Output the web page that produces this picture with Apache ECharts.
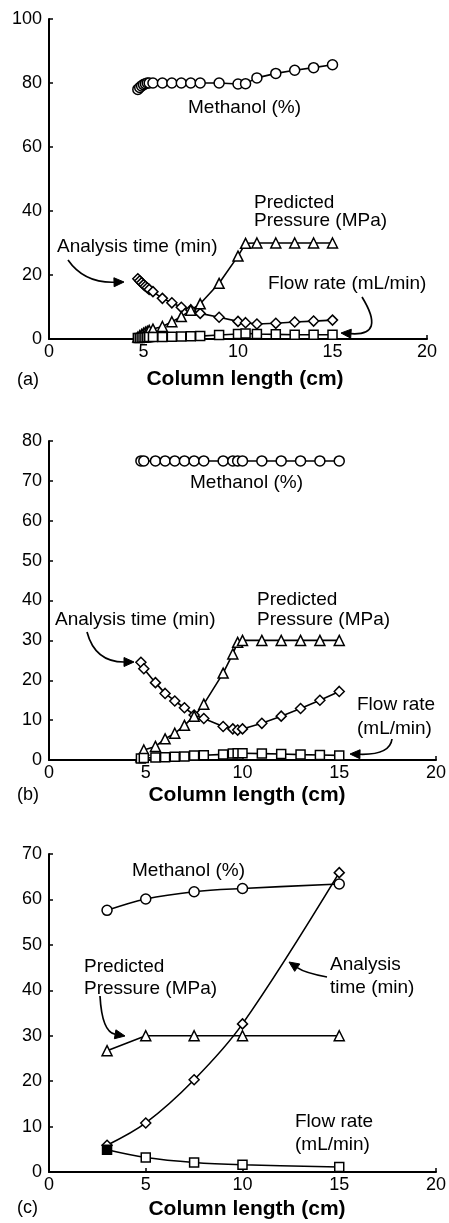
<!DOCTYPE html>
<html>
<head>
<meta charset="utf-8">
<script src="https://cdn.jsdelivr.net/npm/echarts@6/dist/echarts.min.js"></script>
<style>
html,body{margin:0;padding:0;background:#fff;}
#c{width:449px;height:1223px;}
</style>
</head>
<body>
<div id="c"></div>
<script>
// ---------- Panel (a) ----------
var xA     = [4.7, 4.8, 4.9, 5.0, 5.1, 5.2, 5.3, 5.5, 6, 6.5, 7, 7.5, 8, 9, 10, 10.4, 11, 12, 13, 14, 15];
var methA  = [78, 78.6, 79.1, 79.5, 79.8, 80, 80, 80, 80, 80, 80, 80, 80, 80, 79.7, 79.8, 81.6, 83, 84, 84.8, 85.7];
var timeA  = [18.8, 18.2, 17.6, 17.0, 16.5, 16.0, 15.5, 14.8, 12.7, 11.3, 9.9, 9.1, 8.0, 6.8, 5.5, 5.1, 4.7, 4.9, 5.3, 5.6, 5.9];
var pressA = [0.6, 1.0, 1.4, 1.8, 2.1, 2.4, 2.7, 3.1, 3.9, 5.4, 7.0, 9.0, 11.0, 17.4, 25.9, 29.9, 30, 30, 30, 30, 30];
var flowA  = [0.3, 0.35, 0.4, 0.45, 0.5, 0.55, 0.6, 0.6, 0.6, 0.7, 0.75, 0.85, 0.9, 1.25, 1.55, 1.75, 1.55, 1.45, 1.35, 1.35, 1.35];

// ---------- Panel (b) ----------
var xB     = [4.75, 4.9, 5.5, 6, 6.5, 7, 7.5, 8, 9, 9.5, 9.75, 10, 11, 12, 13, 14, 15];
var methB  = [75, 75, 75, 75, 75, 75, 75, 75, 75, 75, 75, 75, 75, 75, 75, 75, 75];
var timeB  = [24.5, 22.9, 19.4, 16.7, 14.8, 13.1, 11.3, 10.4, 8.4, 7.8, 7.5, 7.8, 9.2, 11.0, 12.9, 15.0, 17.2];
var pressB = [0.8, 2.5, 3.4, 5.3, 6.7, 8.7, 11.0, 14.0, 21.8, 26.6, 29.5, 30, 30, 30, 30, 30, 30];
var flowB  = [0.4, 0.5, 0.6, 0.7, 0.8, 0.9, 1.1, 1.2, 1.4, 1.6, 1.7, 1.7, 1.6, 1.5, 1.35, 1.25, 1.15];

// ---------- Panel (c) ----------
var xC     = [3, 5, 7.5, 10, 15];
var methC  = [57.6, 60.1, 61.7, 62.4, 63.4];
var timeC  = [5.9, 10.8, 20.3, 32.6, 65.9];
var pressC = [26.7, 30, 30, 30, 30];
var flowC  = [4.9, 3.2, 2.1, 1.6, 1.1];

// ---------- Axis ticks ----------
var xTicks = {min: 0, max: 20, interval: 5};
var yTicksA = {min: 0, max: 100, interval: 20};
var yTicksB = {min: 0, max: 80, interval: 10};
var yTicksC = {min: 0, max: 70, interval: 10};
var xTitle = 'Column length (cm)';
var panelLabels = ['(a)', '(b)', '(c)'];

var FONT = '"Liberation Sans", Arial, Helvetica, sans-serif';

function pairs(xs, ys) { return xs.map(function (x, i) { return [x, ys[i]]; }); }

function xAxisCfg(idx) {
  return {
    type: 'value', gridIndex: idx, min: xTicks.min, max: xTicks.max, interval: xTicks.interval,
    axisLine: {show: true, onZero: false, lineStyle: {color: '#000', width: 2}},
    axisTick: {show: true, inside: true, length: 4, lineStyle: {color: '#000', width: 1.5}},
    axisLabel: {color: '#000', fontSize: 18, fontFamily: FONT, margin: 4},
    splitLine: {show: false}
  };
}
function yAxisCfg(idx, t) {
  return {
    type: 'value', gridIndex: idx, min: t.min, max: t.max, interval: t.interval,
    axisLine: {show: true, lineStyle: {color: '#000', width: 2}},
    axisTick: {show: true, inside: true, length: 4, lineStyle: {color: '#000', width: 1.5}},
    axisLabel: {color: '#000', fontSize: 18, fontFamily: FONT, margin: 7},
    splitLine: {show: false}
  };
}

var markerStyles = {
  meth:  {symbol: 'circle',   size: 10},
  time:  {symbol: 'diamond',  size: 10},
  press: {symbol: 'triangle', size: 10},
  flow:  {symbol: 'rect',     size: 9}
};

function lineSeries(idx, key, xs, ys, smooth, extra) {
  var m = markerStyles[key];
  var data = pairs(xs, ys);
  if (extra) data = extra(data);
  return {
    type: 'line', xAxisIndex: idx, yAxisIndex: idx, data: data,
    smooth: smooth ? 0.35 : false,
    symbol: m.symbol, symbolSize: m.size, showSymbol: true,
    lineStyle: {color: '#000', width: 1.6},
    itemStyle: {color: '#fff', borderColor: '#000', borderWidth: 1.5},
    emphasis: {disabled: true}, animation: false
  };
}

// ---------- annotations ----------
function txt(s, x, y, opts) {
  opts = opts || {};
  return {
    type: 'text', x: x, y: y, z: 100,
    style: {
      text: s, fill: '#000',
      font: (opts.bold ? 'bold ' : '') + (opts.size || 19) + 'px ' + FONT,
      align: opts.align || 'left', verticalAlign: 'middle'
    }
  };
}
function arrow(x0, y0, cx, cy, x1, y1) {
  var dx = x1 - cx, dy = y1 - cy, L = Math.sqrt(dx * dx + dy * dy);
  dx /= L; dy /= L;
  var hl = 10, hw = 4.5;
  var bx = x1 - dx * hl, by = y1 - dy * hl;
  var nx = -dy, ny = dx;
  return [
    {type: 'bezierCurve', z: 100, shape: {x1: x0, y1: y0, cpx1: cx, cpy1: cy, x2: bx, y2: by},
     style: {stroke: '#000', lineWidth: 1.7, fill: null}},
    {type: 'polygon', z: 100, shape: {points: [[x1, y1], [bx + nx * hw, by + ny * hw], [bx - nx * hw, by - ny * hw]]},
     style: {fill: '#000', stroke: '#000', lineWidth: 1}}
  ];
}

var graphics = [];
// panel a
graphics.push(txt('Methanol (%)', 188, 108));
graphics.push(txt('Predicted', 254, 203));
graphics.push(txt('Pressure (MPa)', 254, 221));
graphics.push(txt('Analysis time (min)', 57, 247));
graphics.push(txt('Flow rate (mL/min)', 268, 284));
graphics = graphics.concat(arrow(68, 260, 84, 283, 124, 282));
graphics = graphics.concat(arrow(362, 297, 386, 336, 341, 333));
graphics.push(txt(xTitle, 245, 379, {bold: true, size: 21, align: 'center'}));
graphics.push(txt(panelLabels[0], 17, 380, {size: 18}));
// panel b
graphics.push(txt('Methanol (%)', 190, 483));
graphics.push(txt('Predicted', 257, 600));
graphics.push(txt('Pressure (MPa)', 257, 620));
graphics.push(txt('Analysis time (min)', 55, 620));
graphics.push(txt('Flow rate', 357, 705));
graphics.push(txt('(mL/min)', 357, 729));
graphics = graphics.concat(arrow(87, 632, 95, 662, 134, 662));
graphics = graphics.concat(arrow(392, 739, 390, 755, 350, 754));
graphics.push(txt(xTitle, 247, 795, {bold: true, size: 21, align: 'center'}));
graphics.push(txt(panelLabels[1], 17, 795, {size: 18}));
// panel c
graphics.push(txt('Methanol (%)', 132, 871));
graphics.push(txt('Predicted', 84, 967));
graphics.push(txt('Pressure (MPa)', 84, 989));
graphics.push(txt('Analysis', 330, 965));
graphics.push(txt('time (min)', 330, 988));
graphics.push(txt('Flow rate', 295, 1122));
graphics.push(txt('(mL/min)', 295, 1145));
graphics = graphics.concat(arrow(100, 996, 102, 1032, 125, 1036));
graphics = graphics.concat(arrow(327, 977, 305, 973, 289, 962));
graphics.push(txt(xTitle, 247, 1209, {bold: true, size: 21, align: 'center'}));
graphics.push(txt(panelLabels[2], 17, 1208, {size: 18}));

var option = {
  backgroundColor: '#fff',
  animation: false,
  grid: [
    {left: 49, top: 19, width: 378, height: 320},
    {left: 49, top: 441, width: 388, height: 319},
    {left: 49, top: 854, width: 388, height: 318}
  ],
  xAxis: [xAxisCfg(0), xAxisCfg(1), xAxisCfg(2)],
  yAxis: [yAxisCfg(0, yTicksA), yAxisCfg(1, yTicksB), yAxisCfg(2, yTicksC)],
  series: [
    lineSeries(0, 'meth', xA, methA),
    lineSeries(0, 'time', xA, timeA),
    lineSeries(0, 'press', xA, pressA),
    lineSeries(0, 'flow', xA, flowA),
    lineSeries(1, 'meth', xB, methB),
    lineSeries(1, 'time', xB, timeB),
    lineSeries(1, 'press', xB, pressB),
    lineSeries(1, 'flow', xB, flowB),
    lineSeries(2, 'meth', xC, methC, true),
    lineSeries(2, 'time', xC, timeC, true),
    lineSeries(2, 'press', xC, pressC, false),
    lineSeries(2, 'flow', xC, flowC, true, function (d) {
      d[0] = {value: d[0], itemStyle: {color: '#000'}};
      return d;
    })
  ],
  graphic: graphics
};

var chart = echarts.init(document.getElementById('c'), null, {renderer: 'canvas'});
chart.setOption(option);
</script>
</body>
</html>
